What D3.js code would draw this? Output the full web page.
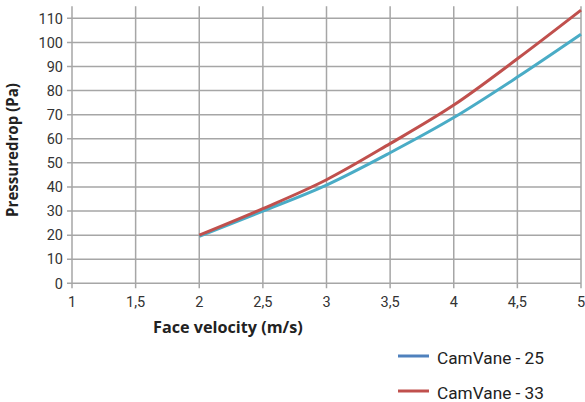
<!DOCTYPE html>
<html><head><meta charset="utf-8">
<script src="https://cdn.jsdelivr.net/npm/d3@7"></script>
<style>body{margin:0;background:#fff}svg{display:block}</style>
</head><body>
<svg id="c" width="585" height="402"></svg>
<script>
const velocities = [2, 2.5, 3, 3.5, 4, 4.5, 5];
const camVane25 = [19.5, 30, 40.8, 54.2, 68.8, 85.6, 103.4];
const camVane33 = [20, 31, 43, 58, 74, 93.2, 113.4];
const xTicks = [1, 1.5, 2, 2.5, 3, 3.5, 4, 4.5, 5];
const yTicks = [0, 10, 20, 30, 40, 50, 60, 70, 80, 90, 100, 110];
const seriesNames = ["CamVane - 25", "CamVane - 33"];
const lineColors = ["#4aacc6", "#c0504d"];
const legendColors = ["#4f81bd", "#c0504d"];

const svg = d3.select("#c");
const x = d3.scaleLinear().domain([1, 5]).range([72, 581]);
const y = d3.scaleLinear().domain([0, 115]).range([283.3, 6.3]);
const fmt = d => String(d).replace(".", ",");
const font = "Roboto, 'Liberation Sans', sans-serif";
const titleFont = "'Open Sans', 'DejaVu Sans', sans-serif";

// vertical gridlines
svg.append("g").selectAll("line").data(xTicks).join("line")
  .attr("x1", d => x(d)).attr("x2", d => x(d))
  .attr("y1", y(115)).attr("y2", y(0) + 5)
  .attr("stroke", "#a6a6a6").attr("stroke-width", 1.5);
// horizontal gridlines
svg.append("g").selectAll("line").data(yTicks).join("line")
  .attr("x1", x(1) - 5).attr("x2", x(5))
  .attr("y1", d => y(d)).attr("y2", d => y(d))
  .attr("stroke", "#a6a6a6").attr("stroke-width", 1.5);

// tick labels
svg.append("g").selectAll("text").data(yTicks).join("text")
  .attr("x", 63).attr("y", d => y(d)).attr("dy", "0.36em")
  .attr("text-anchor", "end").attr("font-family", font).attr("font-size", 14.5)
  .attr("fill", "#333").text(d => d);
svg.append("g").selectAll("text").data(xTicks).join("text")
  .attr("x", d => x(d)).attr("y", 307)
  .attr("text-anchor", "middle").attr("font-family", font).attr("font-size", 14.5)
  .attr("fill", "#333").text(fmt);

// axis titles
function fitWidth(sel, w) {
  const n = sel.node(); const cur = n.getComputedTextLength();
  const fs = parseFloat(sel.attr("font-size"));
  sel.attr("font-size", fs * w / cur);
}
const xt = svg.append("text").attr("x", 153).attr("y", 333)
  .attr("font-family", titleFont).attr("font-size", 13).attr("font-weight", "bold")
  .attr("fill", "#222").text("Face velocity (m/s)");
fitWidth(xt, 150);
const yt = svg.append("text").attr("transform", "translate(18,150) rotate(-90)")
  .attr("text-anchor", "middle")
  .attr("font-family", titleFont).attr("font-size", 13).attr("font-weight", "bold")
  .attr("fill", "#222").text("Pressuredrop (Pa)");
fitWidth(yt, 134);

// lines
const line = d3.line().x(d => x(d[0])).y(d => y(d[1])).curve(d3.curveMonotoneX);
[camVane25, camVane33].forEach((vals, i) => {
  svg.append("path").datum(velocities.map((v, j) => [v, vals[j]]))
    .attr("d", line).attr("fill", "none")
    .attr("stroke", lineColors[i]).attr("stroke-width", 3);
});

// legend
const lg = svg.append("g").selectAll("g").data(seriesNames).join("g")
  .attr("transform", (d, i) => `translate(398,${356 + i * 35})`);
lg.append("line").attr("x1", 0).attr("x2", 31).attr("y1", 0).attr("y2", 0)
  .attr("stroke", (d, i) => legendColors[i]).attr("stroke-width", 3);
lg.append("text").attr("x", 39).attr("y", 1.5).attr("dy", "0.36em")
  .attr("font-family", font).attr("font-size", 17).attr("fill", "#222")
  .each(function(d) { d3.select(this).text(d); })
  .attr("textLength", 107).attr("lengthAdjust", "spacingAndGlyphs");
</script>
</body></html>
